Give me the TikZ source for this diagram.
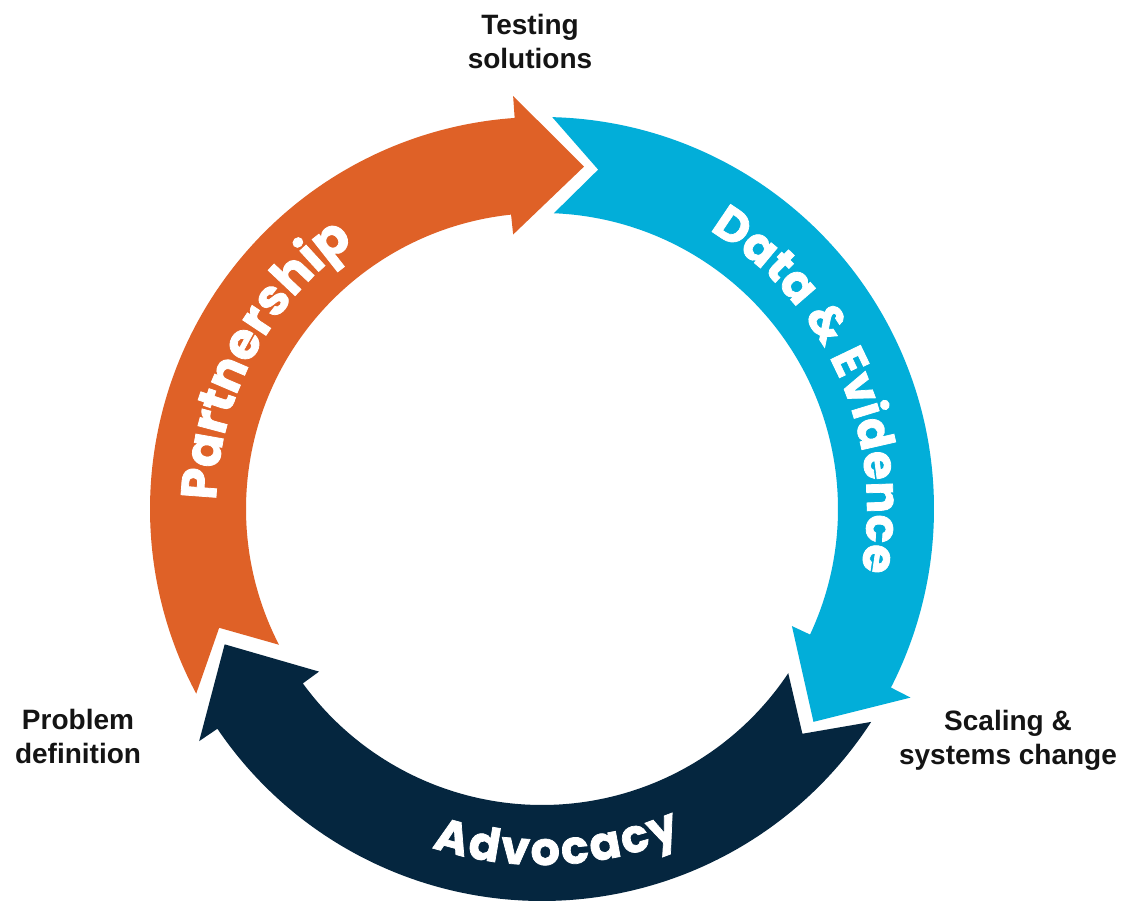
\documentclass[tikz,border=0pt]{standalone}
\usepackage{fontspec}
\setmainfont{Liberation Sans}
\newfontfamily\ringfont{Poppins}[BoldFeatures={FakeBold=1.6}]
\usetikzlibrary{decorations.text}
\definecolor{cOrange}{RGB}{223,97,39}
\definecolor{cBlue}{RGB}{2,174,217}
\definecolor{cNavy}{RGB}{5,38,63}
\definecolor{cLabel}{RGB}{20,20,20}
\newcommand\cyclearrow[3]{% #1 colour, #2 tail angle, #3 tip angle
  \pgfmathsetmacro\tO{#2+0.4}%
  \pgfmathsetmacro\tI{#2-0.4}%
  \pgfmathsetmacro\tN{#2-7.5}%
  \pgfmathsetmacro\bO{#3+11}%
  \pgfmathsetmacro\bI{#3+13}%
  \fill[#1, shift={(C)}] (\tO:392pt) arc[start angle=\tO, end angle=\bO, radius=392pt]
    -- (\bO:414pt) -- (#3:345pt) -- (\bI:276pt) -- (\bI:296pt)
    arc[start angle=\bI, end angle=\tI, radius=296pt] -- (\tN:344pt) -- cycle;
}
\begin{document}
\begin{tikzpicture}[x=1pt,y=1pt,
  lbl/.style={font=\bfseries\fontsize{28}{34}\selectfont, text=cLabel, align=center, inner sep=0pt},
]
\useasboundingbox (0,0) rectangle (1127,905);
\fill[white] (0,0) rectangle (1127,905);
\coordinate (C) at (542,396);

\cyclearrow{cOrange}{207.7}{83}
\cyclearrow{cBlue}{88.1}{-38.1}
\cyclearrow{cNavy}{-33.3}{-156.9}

\path[shift={(C)}, decorate, decoration={text along path, text color=white, text align={fit to path},
  text={|\ringfont\bfseries\fontsize{50}{50}\selectfont|Partnership}}]
  (178.5:326pt) arc[start angle=178.5, end angle=127, radius=326pt];
\path[shift={(C)}, decorate, decoration={text along path, text color=white, text align={fit to path},
  text={|\ringfont\bfseries\fontsize{47}{47}\selectfont|Data {\&} Evidence}}]
  (59:325pt) arc[start angle=59, end angle=-11, radius=325pt];
\path[shift={(C)}, decorate, decoration={text along path, text color=white, text align={fit to path},
  text={|\ringfont\bfseries\fontsize{46}{46}\selectfont|Advocacy}}]
  (-108:356pt) arc[start angle=-108, end angle=-67, radius=356pt];

\node[lbl] (testing) at (530,863) {Testing\\solutions};
\node[lbl] (problem) at (78,168.7) {Problem\\definition};
\node[lbl] (scaling) at (1008,164.3) {Scaling \&\\systems change};
\end{tikzpicture}
\end{document}
